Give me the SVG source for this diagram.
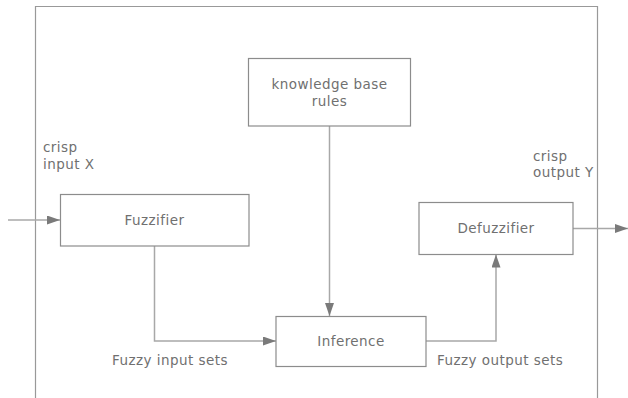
<svg xmlns="http://www.w3.org/2000/svg" width="628" height="398" viewBox="0 0 628 398">
<style>
.box{fill:#fff;stroke:#8c8c8c;stroke-width:1.2}
.frame{fill:none;stroke:#999;stroke-width:1.2}
.t{font-family:"DejaVu Sans",Verdana,sans-serif;font-size:13.5px;fill:#707070;letter-spacing:0.45px}
.c{text-anchor:middle}
.con{fill:none;stroke:#a8a8a8;stroke-width:1.5}
</style>
<defs>
<marker id="ah" viewBox="0 0 13 9" refX="13" refY="4.5" markerWidth="13" markerHeight="9" markerUnits="userSpaceOnUse" orient="auto">
<path d="M0,0 L13,4.5 L0,9 Z" fill="#7a7a7a"/>
</marker>
</defs>
<path class="frame" d="M35.5,398 V6.5 H597.5 V398"/>
<g id="connectors">
<path class="con" d="M8,220 H60" marker-end="url(#ah)"/>
<path class="con" d="M154.5,246 V341 H276" marker-end="url(#ah)"/>
<path class="con" d="M329.5,126 V316" marker-end="url(#ah)"/>
<path class="con" d="M426,341 H496 V254.5" marker-end="url(#ah)"/>
<path class="con" d="M573,228.5 H628" marker-end="url(#ah)"/>
</g>
<g id="kb">
<rect class="box" x="248.5" y="58.5" width="162" height="67.5"/>
<text class="t c" x="329.5" y="88.5">knowledge base</text>
<text class="t c" x="329.5" y="106">rules</text>
</g>
<g id="fuzzifier">
<rect class="box" x="60.5" y="194.5" width="188.5" height="51.5"/>
<text class="t c" x="154.5" y="224.5">Fuzzifier</text>
</g>
<g id="inference">
<rect class="box" x="276" y="316.5" width="150" height="50"/>
<text class="t c" x="351" y="346">Inference</text>
</g>
<g id="defuzzifier">
<rect class="box" x="419" y="202.5" width="154" height="52"/>
<text class="t c" x="496" y="233">Defuzzifier</text>
</g>
<g id="labels">
<text class="t" x="43" y="151.5">crisp</text>
<text class="t" x="43" y="168.5">input X</text>
<text class="t" x="533" y="160.5">crisp</text>
<text class="t" x="533" y="177">output Y</text>
<text class="t" x="112" y="365">Fuzzy input sets</text>
<text class="t" x="437" y="365">Fuzzy output sets</text>
</g>
</svg>
